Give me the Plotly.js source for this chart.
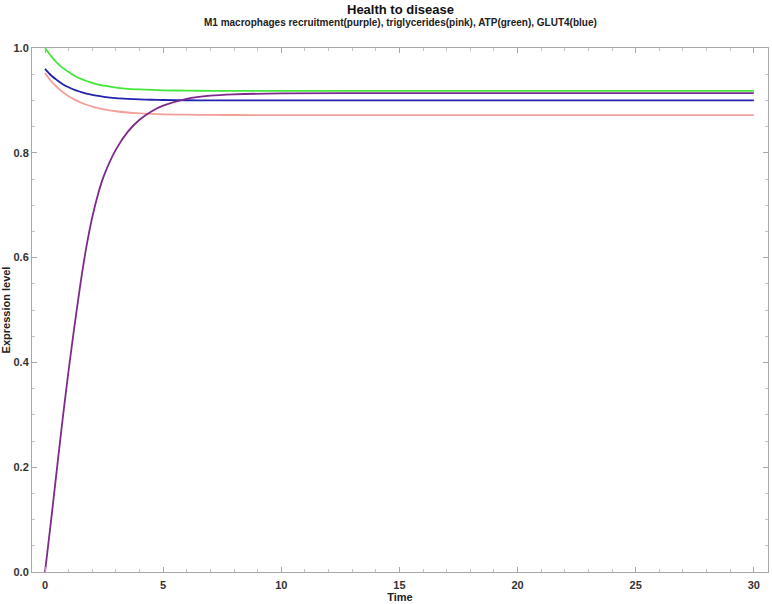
<!DOCTYPE html>
<html>
<head>
<meta charset="utf-8">
<script src="https://cdn.plot.ly/plotly-3.0.1.min.js"></script>
<style>
  html, body { margin: 0; padding: 0; background: #fff; }
  #chart { width: 772px; height: 604px; }
</style>
</head>
<body>
<div id="chart"></div>
<script>
// Valores (tiempo vs nivel de expresion)
const tiempo = [0, 0.25, 0.5, 0.75, 1, 1.25, 1.5, 1.75, 2, 2.25, 2.5, 3, 3.5, 4, 4.5, 5, 6, 7, 8, 10, 15, 20, 25, 30];

const m1Macrofagos = [0, 0.095, 0.195, 0.293, 0.385, 0.47, 0.55, 0.62, 0.677, 0.722, 0.757, 0.806, 0.84, 0.863, 0.879, 0.89, 0.903, 0.909, 0.9115, 0.9135, 0.914, 0.914, 0.914, 0.914];
const trigliceridos = [0.952, 0.9375, 0.9256, 0.9159, 0.908, 0.9014, 0.8961, 0.8917, 0.8882, 0.8853, 0.8828, 0.8793, 0.8769, 0.8753, 0.8742, 0.8735, 0.8727, 0.8723, 0.8721, 0.872, 0.872, 0.872, 0.872, 0.872];
const atp = [1.0, 0.985, 0.972, 0.962, 0.954, 0.947, 0.9415, 0.937, 0.9335, 0.93, 0.928, 0.9245, 0.922, 0.9209, 0.9199, 0.9193, 0.9186, 0.9182, 0.918, 0.918, 0.918, 0.918, 0.918, 0.918];
const glut4 = [0.96, 0.948, 0.939, 0.931, 0.925, 0.92, 0.9163, 0.913, 0.9105, 0.9085, 0.9068, 0.9044, 0.9029, 0.9018, 0.9012, 0.9008, 0.9003, 0.9001, 0.9, 0.9, 0.9, 0.9, 0.9, 0.9];

const fuente = "Liberation Sans, Arial, sans-serif";

const serie = (y, color) => ({
  type: "scatter", mode: "lines",
  x: tiempo, y,
  line: { color, width: 1.8, shape: "spline", smoothing: 0.8 },
  hoverinfo: "skip",
});

const trazas = [
  serie(trigliceridos, "#f4a09a"),
  serie(glut4, "#2222b0"),
  serie(atp, "#44e63c"),
  serie(m1Macrofagos, "#7d2a8c"),
];

const ejeBase = {
  showgrid: false, zeroline: false,
  showline: true, linecolor: "#a8a8a8", linewidth: 1,
  mirror: "ticks",
  ticks: "inside", ticklen: 5, tickcolor: "#a8a8a8", tickwidth: 1,
  tickfont: { family: fuente, size: 11, color: "#333", weight: "bold" },
};

const layout = {
  width: 772, height: 604,
  paper_bgcolor: "#fff", plot_bgcolor: "#fff",
  showlegend: false,
  margin: { l: 32, r: 4, t: 48, b: 32 },
  xaxis: {
    ...ejeBase,
    range: [-0.55, 30.6],
    tickvals: [0, 5, 10, 15, 20, 25, 30],
    ticklabelstandoff: 3,
    minor: { dtick: 1, tick0: 0, ticks: "inside", ticklen: 3, tickcolor: "#c4c4c4" },
    title: { text: "<b>Time</b>", font: { family: fuente, size: 11, color: "#222" }, standoff: 3 },
  },
  yaxis: {
    ...ejeBase,
    range: [0, 1],
    tickvals: [0, 0.2, 0.4, 0.6, 0.8, 1.0],
    tickformat: ".1f",
    minor: { dtick: 0.05, tick0: 0, ticks: "inside", ticklen: 3, tickcolor: "#c4c4c4" },
    title: { text: "<b>Expression level</b>", font: { family: fuente, size: 11, color: "#222" }, standoff: 4 },
  },
  annotations: [
    {
      text: "<b>Health to disease</b>", xref: "paper", yref: "paper",
      x: 0.5, y: 1, yanchor: "middle", yshift: 39, showarrow: false,
      font: { family: fuente, size: 13, color: "#111" },
    },
    {
      text: "<b>M1 macrophages recruitment(purple), triglycerides(pink), ATP(green), GLUT4(blue)</b>",
      xref: "paper", yref: "paper",
      x: 0.5, y: 1, yanchor: "middle", yshift: 26, showarrow: false,
      font: { family: fuente, size: 10, color: "#222" },
    },
  ],
};

Plotly.newPlot("chart", trazas, layout, { displayModeBar: false, staticPlot: true });
</script>
</body>
</html>
